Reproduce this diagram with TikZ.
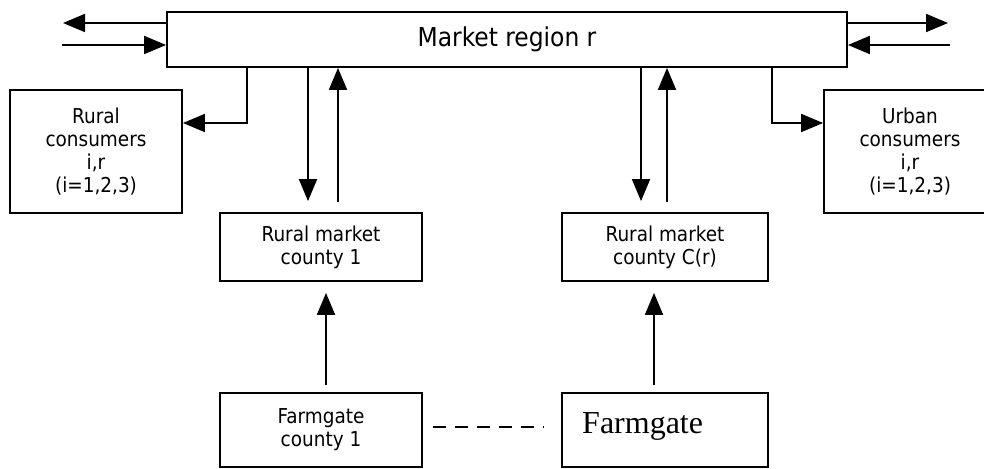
\documentclass[tikz,border=0pt]{standalone}
\usepackage{fontspec}
\setmainfont{DejaVu Sans Condensed}
\newfontfamily\tms{Liberation Serif}
\usetikzlibrary{arrows.meta}
\begin{document}
\begin{tikzpicture}[x=1pt,y=-1pt,
  box/.style={draw,line width=1.8pt,inner sep=0pt,align=center,font=\fontsize{20.5}{23}\selectfont},
  arr/.style={line width=1.8pt,-{Triangle[length=22pt,width=18pt]}},
  link/.style={line width=1.8pt}]
\useasboundingbox (0,0) rectangle (984,468);
\node[box,minimum width=680pt,minimum height=55pt,font=\fontsize{26}{30}\selectfont] (mkt) at (507,39.5) {Market region r};
\node[box,minimum width=172pt,minimum height=123pt] (rc) at (96,151.5) {Rural\\consumers\\i,r\\(i=1,2,3)};
\node[box,minimum width=172pt,minimum height=123pt] (uc) at (910,151.5) {Urban\\consumers\\i,r\\(i=1,2,3)};
\node[box,minimum width=202pt,minimum height=68pt] (c1) at (321,247) {Rural market\\county 1};
\node[box,minimum width=206pt,minimum height=68pt] (cr) at (665,247) {Rural market\\county C(r)};
\node[box,minimum width=202pt,minimum height=74pt] (f1) at (321,430) {Farmgate\\county 1};
\node[box,minimum width=206pt,minimum height=74pt] (fr) at (665,430) {};
\node[anchor=base west,inner sep=0pt,font=\tms\fontsize{32}{35}\selectfont] (frt) at (582,433) {Farmgate};
\coordinate (lt) at (63,23);
\coordinate (lb) at (62,45);
\coordinate (rt) at (948,23);
\coordinate (rb) at (950,45);
\draw[arr] (mkt.west |- lt) -- (lt);
\draw[arr] (lb) -- (mkt.west |- lb);
\draw[arr] (mkt.east |- rt) -- (rt);
\draw[arr] (rb) -- (mkt.east |- rb);
\draw[arr] (mkt.south -| 247,0) |- (rc.east |- 0,123);
\draw[arr] (mkt.south -| 772,0) |- (uc.west |- 0,123);
\draw[arr,shorten >=11pt] (mkt.south -| 308,0) -- (c1.north -| 308,0);
\draw[arr,shorten <=10pt] (c1.north -| 338,0) -- (mkt.south -| 338,0);
\draw[arr,shorten >=11pt] (mkt.south -| 641,0) -- (cr.north -| 641,0);
\draw[arr,shorten <=10pt] (cr.north -| 667,0) -- (mkt.south -| 667,0);
\draw[arr,shorten <=7pt,shorten >=11pt] (f1.north -| 326,0) -- (c1.south -| 326,0);
\draw[arr,shorten <=7pt,shorten >=11pt] (fr.north -| 654,0) -- (cr.south -| 654,0);
\draw[link,dash pattern=on 13pt off 9pt,shorten <=10pt,shorten >=17pt] (f1.east |- 0,427) -- (fr.west |- 0,427);
\end{tikzpicture}
\end{document}
